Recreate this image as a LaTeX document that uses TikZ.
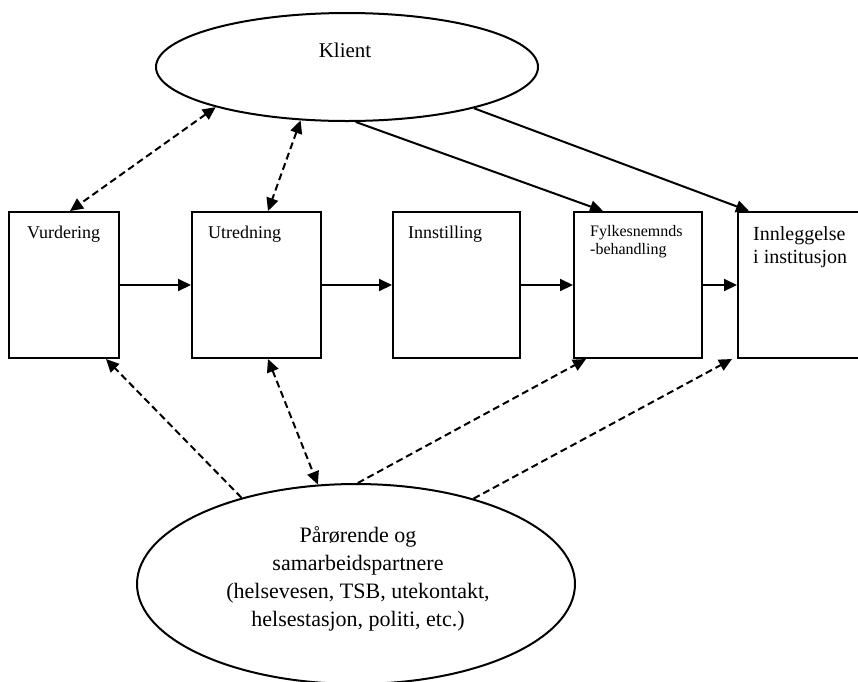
\documentclass[tikz,border=0pt]{standalone}
\usepackage{fontspec}
\setmainfont{Liberation Serif}
\usetikzlibrary{arrows.meta,shapes.geometric}
\begin{document}
\begin{tikzpicture}[x=1pt,y=-1pt,
  stagebox/.style={draw,line width=2pt,rectangle,inner sep=0pt,minimum height=146pt},
  oval/.style={draw,line width=2pt,ellipse,inner sep=0pt},
  lbl/.style={inner sep=0pt,anchor=base west,font=\fontsize{18}{21}\selectfont},
  flow/.style={line width=2pt,-{Triangle[length=13pt,width=12pt]}},
  dflow/.style={line width=2pt,dash pattern=on 7pt off 4pt,-{Triangle[length=13pt,width=12pt]}},
  ddflow/.style={line width=2pt,dash pattern=on 7pt off 4pt,{Triangle[length=13pt,width=12pt]}-{Triangle[length=13pt,width=12pt]}}]
\useasboundingbox (0,0) rectangle (858,681);
\clip (0,0) rectangle (858,681);
% ellipses
\node[oval,minimum width=382pt,minimum height=108pt] (klient) at (347,67) {};
\node[oval,minimum width=438pt,minimum height=200pt] (parorende) at (356,584) {};
% boxes
\node[stagebox,minimum width=110pt] (vur) at (64,285) {};
\node[stagebox,minimum width=129pt] (utr) at (256.5,285) {};
\node[stagebox,minimum width=127pt] (inn) at (456.5,285) {};
\node[stagebox,minimum width=128pt] (fyl) at (638,285) {};
\node[stagebox,minimum width=142pt] (innl) at (809,285) {};
% texts
\node[inner sep=0pt,anchor=base,font=\fontsize{21}{24}\selectfont] (tklient) at (345,57) {Klient};
\node[lbl] (tvur) at (27,238) {Vurdering};
\node[lbl] (tutr) at (208,238) {Utredning};
\node[lbl] (tinn) at (408,238) {Innstilling};
\node[lbl,font=\fontsize{16}{18}\selectfont,align=left] (tfyl) at (590,254) {Fylkesnemnds\\-behandling};
\node[lbl,font=\fontsize{20}{23}\selectfont,align=left] (tinnl) at (753,263) {Innleggelse\\i institusjon};
\node[inner sep=0pt,align=center,font=\fontsize{22}{28}\selectfont] (tpar) at (358,579)
  {Pårørende og\\samarbeidspartnere\\(helsevesen, TSB, utekontakt,\\helsestasjon, politi, etc.)};
% horizontal flow
\draw[flow] (vur.east) -- (utr.west);
\draw[flow] (utr.east) -- (inn.west);
\draw[flow] (inn.east) -- (fyl.west);
\draw[flow] (fyl.east) -- (innl.west);
% from Klient
\draw[ddflow] (klient.197.7) -- ([xshift=6pt]vur.north);
\draw[ddflow] (klient.229) -- ([xshift=11.5pt]utr.north);
\draw[flow] (klient.-81.6) -- ([xshift=-35pt]fyl.north);
\draw[flow] (klient.-18.4) -- ([xshift=12pt]innl.north west);
% from Parorende
\draw[dflow] (parorende.143.5) -- ([xshift=-14pt]vur.south east);
\draw[ddflow] ([xshift=11.5pt]utr.south) -- (parorende.111);
\draw[dflow] (parorende.89) -- ([xshift=13pt]fyl.south west);
\draw[dflow] (parorende.36.4) -- ([xshift=-5pt]innl.south west);
\end{tikzpicture}
\end{document}
